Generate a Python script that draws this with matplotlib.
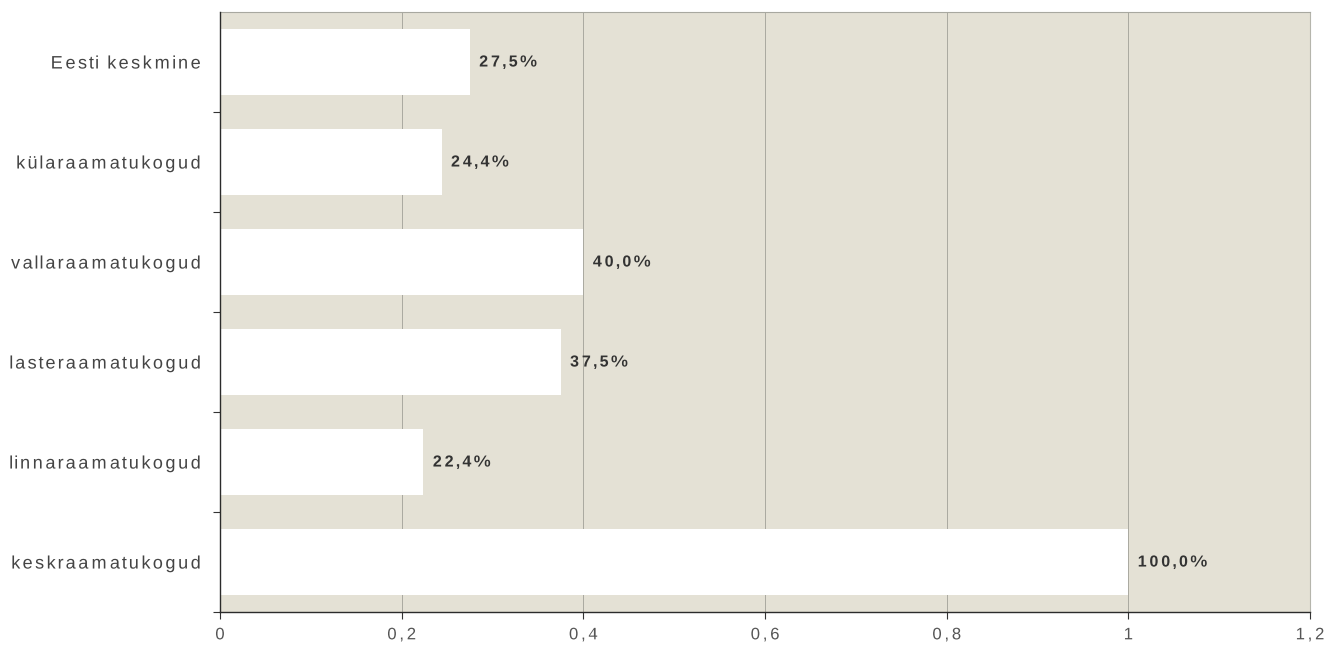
import numpy as np
import matplotlib
matplotlib.use("Agg")
import matplotlib.pyplot as plt
from matplotlib.path import Path
from matplotlib.patheffects import AbstractPathEffect
from matplotlib.ticker import FixedLocator

plt.rcParams['font.family'] = ['Liberation Sans', 'DejaVu Sans']

# Library groups, listed bottom to top
categories = ["keskraamatukogud", "linnaraamatukogud", "lasteraamatukogud",
              "vallaraamatukogud", "külaraamatukogud", "Eesti keskmine"]
values = [1.0, 0.224, 0.375, 0.400, 0.244, 0.275]
value_labels = ["100,0%", "22,4%", "37,5%", "40,0%", "24,4%", "27,5%"]
x_ticks = [0, 0.2, 0.4, 0.6, 0.8, 1.0, 1.2]
x_tick_labels = ["0", "0,2", "0,4", "0,6", "0,8", "1", "1,2"]


class Tracking(AbstractPathEffect):
    """Spread glyph outlines apart (letter spacing) around a fixed anchor."""

    def __init__(self, factor=1.4, anchor="left"):
        super().__init__()
        self.factor = factor
        self.anchor = anchor

    def draw_path(self, renderer, gc, tpath, affine, rgbFace=None):
        verts = np.array(tpath.vertices, dtype=float)
        codes = tpath.codes
        if codes is None or len(verts) == 0:
            renderer.draw_path(gc, tpath, affine, rgbFace)
            return
        real = codes != Path.CLOSEPOLY
        xs = verts[real, 0]
        if self.anchor == "left":
            ref = xs.min()
        elif self.anchor == "right":
            ref = xs.max()
        else:
            ref = 0.5 * (xs.min() + xs.max())
        starts = np.where(codes == Path.MOVETO)[0]
        ends = list(starts[1:]) + [len(verts)]
        for s, e in zip(starts, ends):
            seg = real[s:e]
            cx = 0.5 * (verts[s:e][seg, 0].min() + verts[s:e][seg, 0].max())
            verts[s:e, 0] += (self.factor - 1.0) * (cx - ref)
        renderer.draw_path(gc, Path(verts, codes), affine, rgbFace)


fig = plt.figure(figsize=(13.25, 6.56), dpi=100)
fig.patch.set_facecolor("white")
ax = fig.add_axes([0.166, 0.067, 0.8227, 0.9147])
ax.set_facecolor("#e4e1d5")

ypos = list(range(len(categories)))
ax.barh(ypos, values, height=0.667, color="white", edgecolor="none", zorder=3)

for y, v, lab in zip(ypos, values, value_labels):
    ax.text(v + 0.009, y, lab, va="center", ha="left", fontsize=11.5,
            fontweight="bold", color="#333333", zorder=4,
            path_effects=[Tracking(1.33, "left")])

ax.set_xlim(0, 1.2)
ax.set_ylim(-0.5, len(categories) - 0.5)

ax.set_xticks(x_ticks)
ax.set_xticklabels(x_tick_labels)
ax.set_yticks(ypos)
ax.set_yticklabels(categories)
ax.yaxis.set_minor_locator(FixedLocator([i + 0.5 for i in range(-1, len(categories) - 1)]))

ax.tick_params(axis="y", which="major", length=0, pad=13, labelsize=13, labelcolor="#444444")
ax.tick_params(axis="y", which="minor", length=5, width=0.8, color="#333333", direction="out")
ax.tick_params(axis="x", which="major", length=5, width=0.8, color="#333333",
               direction="out", pad=6, labelsize=12, labelcolor="#555555")

for lab in ax.get_yticklabels():
    lab.set_path_effects([Tracking(1.26, "right")])
for lab in ax.get_xticklabels():
    lab.set_path_effects([Tracking(1.4, "center")])

ax.grid(axis="x", color="#a0a098", linewidth=0.6, zorder=1)
ax.set_axisbelow(True)

for side in ("left", "bottom"):
    ax.spines[side].set_color("#2b2b2b")
    ax.spines[side].set_linewidth(1.0)
    ax.spines[side].set_zorder(5)
ax.spines["top"].set_color("#a8a8a0")
ax.spines["top"].set_linestyle((0, (1, 1)))
ax.spines["top"].set_linewidth(0.8)
ax.spines["right"].set_color("#b5b5ac")
ax.spines["right"].set_linewidth(0.8)

fig.savefig("out.png", dpi=100, facecolor="white")
